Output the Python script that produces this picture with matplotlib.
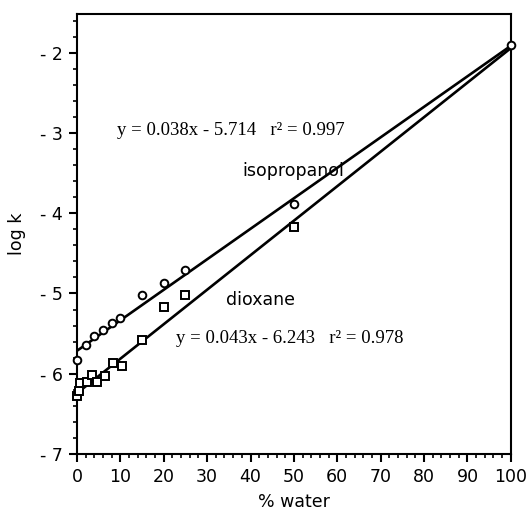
import matplotlib
matplotlib.use("Agg")
import matplotlib.pyplot as plt
import numpy as np
from matplotlib.ticker import MultipleLocator, FixedLocator

iso_x = [0, 2, 4, 6, 8, 10, 15, 20, 25, 50, 100]
iso_y = [-5.83, -5.64, -5.53, -5.46, -5.37, -5.30, -5.02, -4.87, -4.71, -3.88, -1.91]

dio_x = [0, 0.5, 0.7, 2.2, 3.4, 4.5, 6.4, 8.4, 10.3, 15, 20, 25, 50]
dio_y = [-6.28, -6.22, -6.12, -6.10, -6.02, -6.10, -6.03, -5.87, -5.90, -5.58, -5.17, -5.02, -4.17]

iso_fit = (0.038, -5.714)
dio_fit = (0.043, -6.243)

y_ticks = [-7, -6, -5, -4, -3, -2]
y_tick_labels = ["- 7", "- 6", "- 5", "- 4", "- 3", "- 2"]
x_ticks = [0, 10, 20, 30, 40, 50, 60, 70, 80, 90, 100]

SANS = "DejaVu Sans"
SERIF = "Liberation Serif"

fig = plt.figure(figsize=(5.31, 5.18), dpi=100)
ax = fig.add_axes([0.145, 0.1236, 0.817, 0.849])

xl = np.array([0, 100])
ax.plot(xl, iso_fit[0] * xl + iso_fit[1], color="black", lw=1.9, zorder=2)
ax.plot(xl, dio_fit[0] * xl + dio_fit[1], color="black", lw=1.9, zorder=2)
ax.plot(dio_x, dio_y, linestyle="none", marker="s", ms=5.2, mfc="white",
        mec="black", mew=1.4, zorder=3, clip_on=False)
ax.plot(iso_x, iso_y, linestyle="none", marker="o", ms=5.5, mfc="white",
        mec="black", mew=1.4, zorder=4, clip_on=False)

ax.set_xlim(0, 100)
ax.set_ylim(-7, -1.52)
ax.xaxis.set_major_locator(FixedLocator(x_ticks))
ax.xaxis.set_minor_locator(MultipleLocator(2))
ax.yaxis.set_major_locator(FixedLocator(y_ticks))
ax.set_yticklabels(y_tick_labels)
ax.yaxis.set_minor_locator(MultipleLocator(0.2))
ax.tick_params(which="major", direction="out", length=6, width=1.5,
               labelsize=12.5, pad=4)
ax.tick_params(which="minor", direction="out", length=3, width=1.2)
ax.tick_params(top=False, right=False, which="both")
for lab in ax.get_xticklabels() + ax.get_yticklabels():
    lab.set_family(SANS)
for s in ax.spines.values():
    s.set_linewidth(1.5)

ax.set_xlabel("% water", family=SANS, fontsize=12.5, labelpad=5)
ax.set_ylabel("log k", family=SANS, fontsize=12.5, labelpad=10)

ax.text(9.2, -2.97, "y = 0.038x - 5.714   r² = 0.997", family=SERIF,
        fontsize=13.5, va="center", ha="left")
ax.text(38.2, -3.47, "isopropanol", family=SANS, fontsize=12.5,
        va="center", ha="left")
ax.text(34.3, -5.08, "dioxane", family=SANS, fontsize=12.5,
        va="center", ha="left")
ax.text(22.8, -5.56, "y = 0.043x - 6.243   r² = 0.978", family=SERIF,
        fontsize=13.5, va="center", ha="left")

fig.savefig("out.png", dpi=100)
